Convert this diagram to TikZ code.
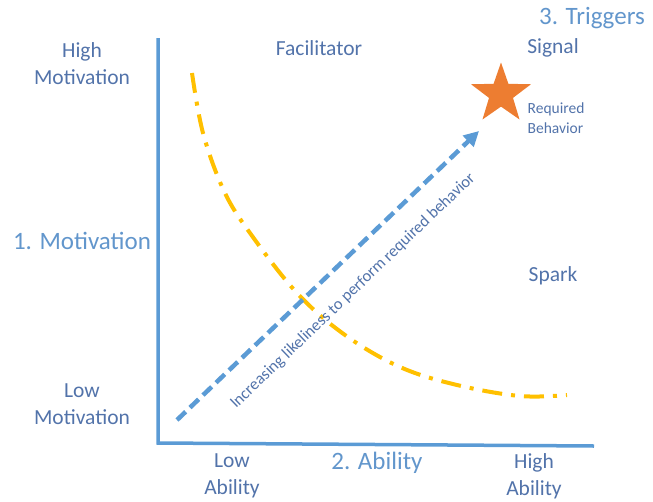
\documentclass[tikz,border=0pt]{standalone}
\usepackage{fontspec}
\setmainfont{Carlito}
\usetikzlibrary{shapes.geometric,arrows.meta,positioning}
\definecolor{textblue}{RGB}{82,115,170}
\definecolor{headblue}{RGB}{98,150,204}
\definecolor{axisblue}{RGB}{91,155,213}
\definecolor{curveyellow}{RGB}{255,192,0}
\definecolor{starorange}{RGB}{237,125,49}

\tikzset{
  label/.style={text=textblue, align=center, font=\fontsize{21.5}{27}\selectfont},
  heading/.style={text=headblue, align=center, font=\fontsize{25}{30}\selectfont},
  smalllabel/.style={text=textblue, align=left, font=\fontsize{15.5}{20}\selectfont},
  axis/.style={axisblue, line width=3.5pt},
  likely/.style={axisblue, line width=4.5pt, dash pattern=on 12pt off 6pt, -{Triangle[length=15pt,width=15pt]}},
  effort/.style={curveyellow, line width=4pt, dash pattern=on 20pt off 9pt on 4pt off 9pt}
}

\begin{document}
\begin{tikzpicture}[x=1pt,y=-1pt]
				\useasboundingbox (0,0) rectangle (653,501);
				
				% Axes
				\coordinate (top) at (158,38);
				\coordinate (origin) at (158,443);
				\coordinate (right) at (594,446);
				\draw[axis] (top) -- (origin) -- (right);
				
				% Motivation labels
				\node[label] (highmot) at (82,64) {High\\Motivation};
				\node[heading] (motivation) at (82,241) {1. Motivation};
				\node[label] (lowmot) at (82,404) {Low\\Motivation};
				
				% Ability labels
				\node[label] (lowab) at (232,476) {Low\\Ability};
				\node[heading] (ability) at (377,463) {2. Ability};
				\node[label] (highab) at (534,476) {High\\Ability};
				
				% Triggers
				\node[heading] (triggers) at (592,18) {3. Triggers};
				\node[label] (facilitator) at (319,48) {Facilitator};
				\node[label] (signal) at (553,48) {Signal};
				\node[label] (spark) at (553,276) {Spark};
				
				% Action line
				\draw[effort] plot[smooth, tension=0.6] coordinates {(192,73) (203,133) (224,191) (250,233) (297,293) (345,335) (400,367) (457,385) (520,396) (567,395)};
				
				% Target behavior
				\node[star, star points=5, star point ratio=2.5, fill=starorange, minimum size=63pt, inner sep=0pt] (behavior) at (501,94) {};
				\node[smalllabel] (reqlabel) at (556,118) {Required\\Behavior};
				
				% Likeliness arrow
				\coordinate (start) at (177,420);
				\coordinate (end) at (479,131);
				\draw[likely] (start) -- (end);
				\node[text=textblue, font=\fontsize{16.5}{20}\selectfont, anchor=base, rotate=43.8] (likelabel) at (356,294) {Increasing likeliness to perform required behavior};
			\end{tikzpicture}
\end{document}
